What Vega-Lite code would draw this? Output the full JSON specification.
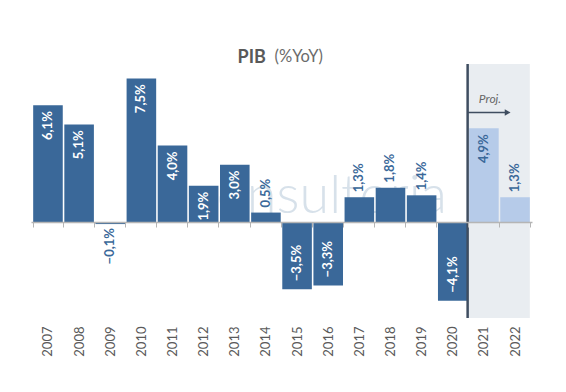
{
  "$schema": "https://vega.github.io/schema/vega-lite/v6.json",
  "width": 501,
  "height": 254,
  "autosize": "none",
  "padding": {"left": 31, "top": 64, "right": 34, "bottom": 74},
  "background": "white",
  "config": {"view": {"stroke": null}, "font": "Lato"},
  "title": {
    "text": "PIB",
    "subtitle": "(%YoY)",
    "anchor": "middle",
    "align": "left",
    "dx": -44,
    "fontSize": 18,
    "fontWeight": "bold",
    "color": "#595959",
    "font": "Lato",
    "subtitleFont": "Lato",
    "subtitleFontSize": 16.5,
    "subtitleColor": "#6b6b6b",
    "subtitlePadding": -18,
    "offset": -4,
    "encode": {"subtitle": {"update": {"dx": {"value": -7}}}}
  },
  "datasets": {
    "pib": [
      {"anio": "2007", "v": 6.1, "tipo": "Real"},
      {"anio": "2008", "v": 5.1, "tipo": "Real"},
      {"anio": "2009", "v": -0.1, "tipo": "Real"},
      {"anio": "2010", "v": 7.5, "tipo": "Real"},
      {"anio": "2011", "v": 4.0, "tipo": "Real"},
      {"anio": "2012", "v": 1.9, "tipo": "Real"},
      {"anio": "2013", "v": 3.0, "tipo": "Real"},
      {"anio": "2014", "v": 0.5, "tipo": "Real"},
      {"anio": "2015", "v": -3.5, "tipo": "Real"},
      {"anio": "2016", "v": -3.3, "tipo": "Real"},
      {"anio": "2017", "v": 1.3, "tipo": "Real"},
      {"anio": "2018", "v": 1.8, "tipo": "Real"},
      {"anio": "2019", "v": 1.4, "tipo": "Real"},
      {"anio": "2020", "v": -4.1, "tipo": "Real"},
      {"anio": "2021", "v": 4.9, "tipo": "Proj"},
      {"anio": "2022", "v": 1.3, "tipo": "Proj"}
    ],
    "marcas": [
      {"t": "consultoria", "proj": "Proj."}
    ]
  },
  "layer": [
    {
      "data": {"name": "marcas"},
      "mark": {"type": "rect", "color": "#e9edf1"},
      "encoding": {
        "x": {
          "datum": "2021",
          "bandPosition": -0.05,
          "type": "nominal",
          "scale": {
            "domain": ["2007","2008","2009","2010","2011","2012","2013","2014","2015","2016","2017","2018","2019","2020","2021","2022"],
            "paddingInner": 0.05,
            "paddingOuter": 0.07
          },
          "axis": {
            "title": null,
            "offset": -96,
            "domainColor": "#b5b5b5",
            "domainWidth": 1.5,
            "tickColor": "#b5b5b5",
            "tickSize": 5,
            "tickBand": "extent",
            "labelAngle": 270,
            "labelAlign": "right",
            "labelBaseline": "middle",
            "labelPadding": 99,
            "labelFontSize": 13,
            "labelColor": "#5a5a5a",
            "labelFont": "Lato",
            "zindex": 1
          }
        },
        "x2": {"datum": "2022", "bandPosition": 1}
      }
    },
    {
      "data": {"name": "marcas"},
      "mark": {"type": "text", "fontSize": 54, "fontWeight": 300, "color": "#d7e1ea", "align": "center", "baseline": "middle"},
      "encoding": {
        "x": {"datum": "2016", "type": "nominal", "bandPosition": 0.2},
        "y": {"datum": 1.3, "type": "quantitative", "scale": {"domain": [-5, 8.25], "nice": false}, "axis": null},
        "text": {"field": "t"}
      }
    },
    {
      "data": {"name": "pib"},
      "mark": {"type": "bar"},
      "encoding": {
        "x": {"field": "anio", "type": "nominal"},
        "y": {"field": "v", "type": "quantitative"},
        "color": {
          "field": "tipo",
          "type": "nominal",
          "scale": {"domain": ["Real", "Proj"], "range": ["#3a6899", "#b6cbe9"]},
          "legend": null
        }
      }
    },
    {
      "data": {"name": "marcas"},
      "mark": {"type": "rule", "color": "#3f4d60", "strokeWidth": 2.5},
      "encoding": {
        "x": {"datum": "2021", "type": "nominal", "bandPosition": -0.05}
      }
    },
    {
      "data": {"name": "marcas"},
      "mark": {"type": "rule", "color": "#3f4d60", "strokeWidth": 1.5},
      "encoding": {
        "x": {"datum": "2021", "type": "nominal", "bandPosition": -0.05},
        "x2": {"datum": "2022", "bandPosition": 0.25},
        "y": {"datum": 5.72, "type": "quantitative"}
      }
    },
    {
      "data": {"name": "marcas"},
      "mark": {"type": "point", "shape": "triangle-right", "filled": true, "color": "#3f4d60", "size": 45, "opacity": 1},
      "encoding": {
        "x": {"datum": "2022", "type": "nominal", "bandPosition": 0.25},
        "y": {"datum": 5.72, "type": "quantitative"}
      }
    },
    {
      "data": {"name": "marcas"},
      "mark": {"type": "text", "fontSize": 12, "fontStyle": "italic", "color": "#666666", "align": "left", "baseline": "middle"},
      "encoding": {
        "x": {"datum": "2021", "type": "nominal", "bandPosition": 0.33},
        "y": {"datum": 6.4, "type": "quantitative"},
        "text": {"field": "proj"}
      }
    },
    {
      "data": {"name": "pib"},
      "transform": [
        {"calculate": "replace(format(datum.v, '.1f'), '.', ',') + '%'", "as": "etiqueta"},
        {"filter": "datum.v >= 1.9"}
      ],
      "mark": {"type": "text", "angle": 270, "align": "right", "baseline": "middle", "dx": -6, "fontSize": 13, "fontWeight": "bold"},
      "encoding": {
        "x": {"field": "anio", "type": "nominal"},
        "y": {"field": "v", "type": "quantitative"},
        "text": {"field": "etiqueta"},
        "color": {
          "condition": {"test": "datum.tipo == 'Proj'", "value": "#3a6899"},
          "value": "#ffffff"
        }
      }
    },
    {
      "data": {"name": "pib"},
      "transform": [
        {"calculate": "replace(format(datum.v, '.1f'), '.', ',') + '%'", "as": "etiqueta"},
        {"filter": "datum.v > 0 && datum.v < 1.9"}
      ],
      "mark": {"type": "text", "angle": 270, "align": "left", "baseline": "middle", "dx": 5, "fontSize": 13, "fontWeight": "bold", "color": "#3a6899"},
      "encoding": {
        "x": {"field": "anio", "type": "nominal"},
        "y": {"field": "v", "type": "quantitative"},
        "text": {"field": "etiqueta"}
      }
    },
    {
      "data": {"name": "pib"},
      "transform": [
        {"calculate": "replace(format(datum.v, '.1f'), '.', ',') + '%'", "as": "etiqueta"},
        {"filter": "datum.v <= -1"}
      ],
      "mark": {"type": "text", "angle": 270, "align": "left", "baseline": "middle", "dx": 8, "fontSize": 13, "fontWeight": "bold", "color": "#ffffff"},
      "encoding": {
        "x": {"field": "anio", "type": "nominal"},
        "y": {"field": "v", "type": "quantitative"},
        "text": {"field": "etiqueta"}
      }
    },
    {
      "data": {"name": "pib"},
      "transform": [
        {"calculate": "replace(format(datum.v, '.1f'), '.', ',') + '%'", "as": "etiqueta"},
        {"filter": "datum.v < 0 && datum.v > -1"}
      ],
      "mark": {"type": "text", "angle": 270, "align": "right", "baseline": "middle", "dx": -4, "fontSize": 13, "fontWeight": "bold", "color": "#3a6899"},
      "encoding": {
        "x": {"field": "anio", "type": "nominal"},
        "y": {"field": "v", "type": "quantitative"},
        "text": {"field": "etiqueta"}
      }
    }
  ]
}
